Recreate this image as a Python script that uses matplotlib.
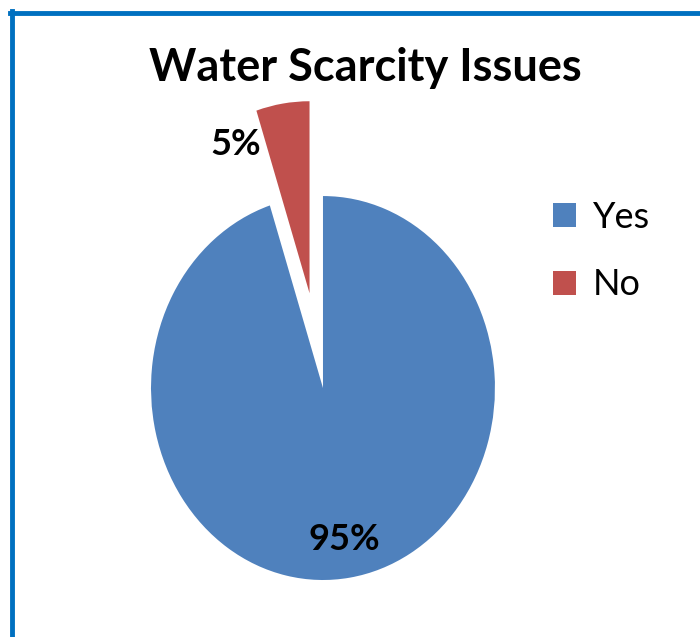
import matplotlib
matplotlib.use('Agg')
import matplotlib.pyplot as plt
from matplotlib.lines import Line2D

# data
labels = ['Yes', 'No']
values = [95, 5]
colors = ['#4F81BD', '#C0504D']
explode = [0, 0.5]
title = 'Water Scarcity Issues'

plt.rcParams['font.family'] = ['Lato', 'DejaVu Sans']

fig = plt.figure(figsize=(7, 6.37), dpi=100)
fig.patch.set_facecolor('white')

# axes placed so the (stretched) pie lands where the reference has it
ax = fig.add_axes([0.0929, 0.0292, 0.737, 0.874])
wedges, texts, autotexts = ax.pie(values, colors=colors, explode=explode,
                                  startangle=90, counterclock=False,
                                  autopct='%1.0f%%', pctdistance=0.8,
                                  wedgeprops=dict(linewidth=0))
ax.set_aspect('auto')
ax.set_xlim(-1.5, 1.5)
ax.set_ylim(-1.2, 1.7)
ax.axis('off')

for t in autotexts:
    t.set_fontsize(26)
    t.set_fontweight('bold')
    t.set_color('black')
# the small slice label sits outside, to the left
autotexts[1].set_position((-0.51, 1.27))

fig.text(365 / 700, 1 - 68 / 637, title, ha='center', va='center',
         fontsize=32.5, fontweight='bold')

leg = fig.legend(wedges, labels, loc='upper left',
                 bbox_to_anchor=(553 / 700, 1 - 201 / 637),
                 frameon=False, fontsize=26, handlelength=0.65,
                 handleheight=0.65, handletextpad=0.45, labelspacing=0.95,
                 borderpad=0, borderaxespad=0)

# blue frame (left and top edges visible)
fig.add_artist(Line2D([11.5 / 700, 11.5 / 700], [0, 1 - 11 / 637],
                      transform=fig.transFigure, color='#0070C0', lw=3.5))
fig.add_artist(Line2D([10 / 700, 1], [1 - 12.5 / 637, 1 - 12.5 / 637],
                      transform=fig.transFigure, color='#0070C0', lw=3.5))

fig.savefig('out.png', dpi=100)
